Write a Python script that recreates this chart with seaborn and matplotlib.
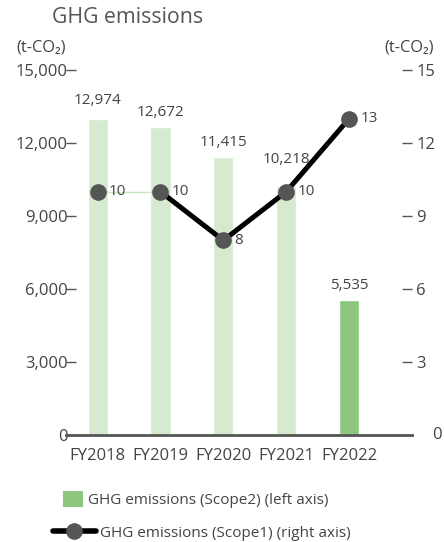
import numpy as np
import pandas as pd
import matplotlib
matplotlib.use("Agg")
import matplotlib.pyplot as plt
from matplotlib.patches import Patch
from matplotlib.lines import Line2D
import seaborn as sns

years = ["FY2018", "FY2019", "FY2020", "FY2021", "FY2022"]
scope2 = [12974, 12672, 11415, 10218, 5535]
scope1 = [10, 10, 8, 10, 13]
left_ticks = [0, 3000, 6000, 9000, 12000, 15000]
right_ticks = [3, 6, 9, 12, 15]

bar_colors = ["#d5eacf", "#d5eacf", "#d5eacf", "#d5eacf", "#8cc67f"]
text_color = "#444444"
# vertical gap (points) between each bar top and its value label
label_gap = [8, 5, 5, 14, 5]

sns.set_theme(style="white")
plt.rcParams["font.family"] = ["Open Sans", "DejaVu Sans"]

fig = plt.figure(figsize=(4.44, 5.42), dpi=100)
ax = fig.add_axes([0.149, 0.197, 0.779, 0.674])

df = pd.DataFrame({"year": years, "scope2": scope2})
sns.barplot(data=df, x="year", y="scope2", hue="year", palette=bar_colors,
            legend=False, width=0.32, ax=ax, saturation=1)

ax.set_xlim(-0.5, 5.0)
ax.set_ylim(0, 15000)
ax.set_xlabel("")
ax.set_ylabel("")
for s in ["top", "right", "left"]:
    ax.spines[s].set_visible(False)
ax.spines["bottom"].set_color("#555555")
ax.spines["bottom"].set_linewidth(2)
ax.set_yticks(left_ticks)
ax.set_yticklabels([f"{v:,}" for v in left_ticks])
ax.tick_params(axis="y", direction="in", length=7, width=1, color="#555555",
               pad=-1, labelsize=12, labelcolor=text_color)
ax.tick_params(axis="x", length=0, pad=9, labelsize=12, labelcolor=text_color)

for i, v in enumerate(scope2):
    ax.annotate(f"{v:,}", (i, v), xytext=(0, label_gap[i]),
                textcoords="offset points", ha="center", va="bottom",
                fontsize=11, color=text_color)

# Scope1 on the right axis
ax2 = ax.twinx()
ax2.set_ylim(0, 15)
pos = np.arange(len(years))
line_df = pd.DataFrame({"pos": pos, "scope1": scope1})
ax2.plot(pos[:2], scope1[:2], color="#c9e6c1", lw=1, zorder=2)
sns.lineplot(data=line_df.iloc[1:], x="pos", y="scope1", color="black",
             linewidth=3.6, ax=ax2, zorder=3)
ax2.plot(pos, scope1, ls="none", marker="o", markersize=12,
         color="#555555", markeredgewidth=0, zorder=4)
for i, v in enumerate(scope1):
    ax2.annotate(f"{v}", (i, v), xytext=(8, 0), textcoords="offset points",
                 ha="left", va="center", fontsize=11, color=text_color)
ax2.set_xlabel("")
ax2.set_ylabel("")
for s in ["top", "right", "left", "bottom"]:
    ax2.spines[s].set_visible(False)
ax2.set_yticks(right_ticks)
ax2.set_yticklabels([str(v) for v in right_ticks])
ax2.tick_params(axis="y", direction="in", length=7, width=1, color="#555555",
                pad=3, labelsize=12, labelcolor=text_color)
ax2.text(1.058, 0, "0", transform=ax2.transAxes, ha="left", va="center",
         fontsize=12, color=text_color)
ax.set_xlim(-0.5, 5.0)

# Titles and units
fig.text(0.117, 0.968, "GHG emissions", fontsize=15.3, color="#555555",
         ha="left", va="center")
fig.text(0.036, 0.913, "(t-CO₂)", fontsize=11.8, color=text_color,
         ha="left", va="center")
fig.text(0.978, 0.913, "(t-CO₂)", fontsize=11.8, color=text_color,
         ha="right", va="center")

# Legends
fig.legend(handles=[Patch(facecolor="#8cc67f", edgecolor="none",
                          label="GHG emissions (Scope2) (left axis)")],
           loc="center left", bbox_to_anchor=(0.143, 0.079), frameon=False,
           handlelength=1.25, handleheight=1.25, handletextpad=0.35,
           fontsize=11, labelcolor=text_color, borderpad=0, borderaxespad=0)
fig.legend(handles=[Line2D([0], [0], color="black", lw=4, marker="o",
                           markersize=12, markerfacecolor="#555555",
                           markeredgewidth=0,
                           label="GHG emissions (Scope1) (right axis)")],
           loc="center left", bbox_to_anchor=(0.119, 0.0166), frameon=False,
           handlelength=2.8, handletextpad=0.3, borderpad=0, borderaxespad=0,
           fontsize=11, labelcolor=text_color)

fig.savefig("out.png", dpi=100)
